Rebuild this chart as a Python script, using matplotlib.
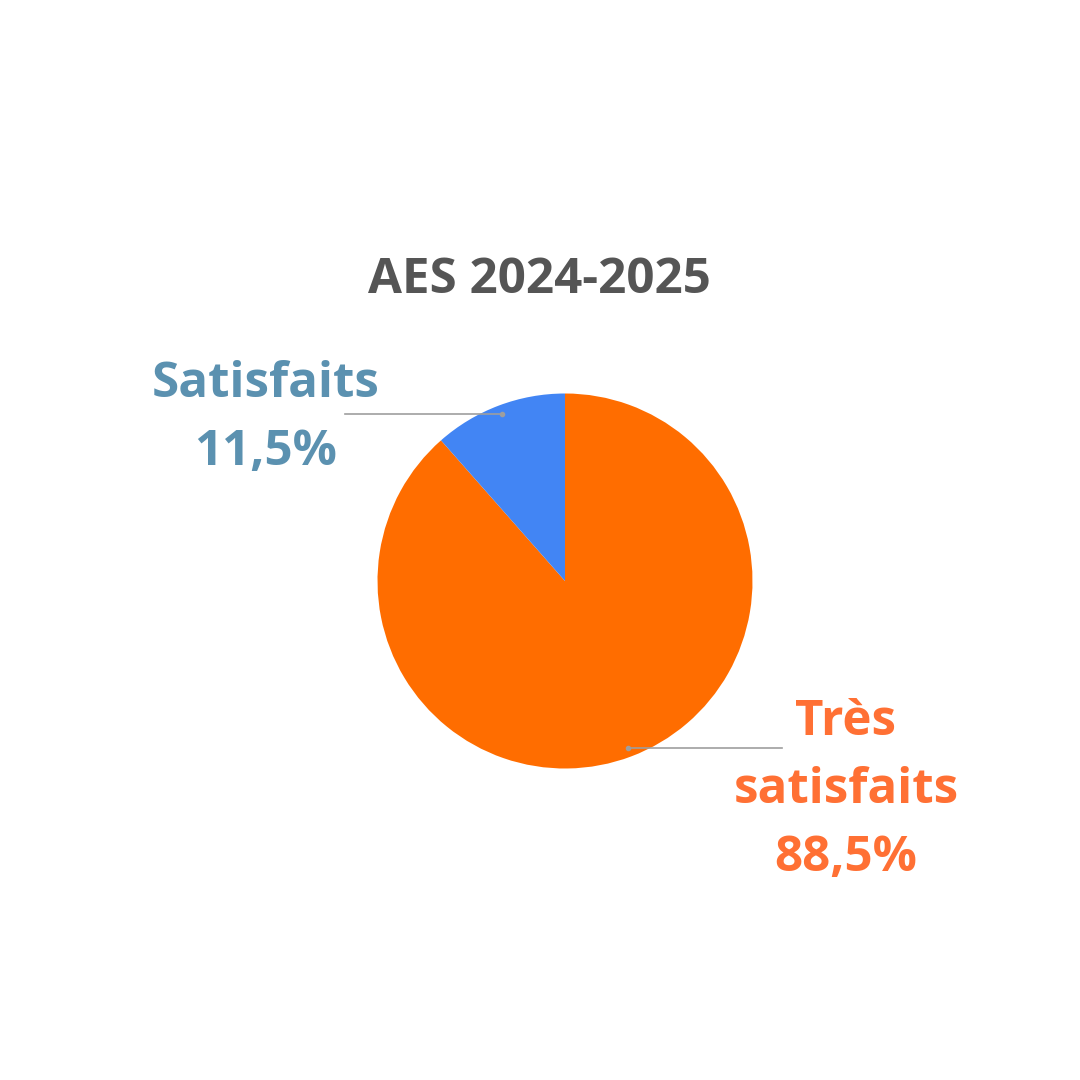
import numpy as np
import matplotlib
matplotlib.use("Agg")
import matplotlib.pyplot as plt

title = "AES 2024-2025"
categories = ["Très satisfaits", "Satisfaits"]
values = [88.5, 11.5]
label_lines = [["Très", "satisfaits", "88,5%"], ["Satisfaits", "11,5%"]]
colors = ["#FF6D00", "#4285F4"]
text_colors = ["#FF7034", "#5B91B0"]

W = H = 1080
fig = plt.figure(figsize=(10.8, 10.8), dpi=100)
ax = fig.add_axes([0, 0, 1, 1])
ax.set_xlim(0, W)
ax.set_ylim(0, H)
ax.set_aspect("equal")
ax.axis("off")

cx, cy, R = 565, H - 581, 187.5
wedges, _ = ax.pie(values, colors=colors, startangle=90, counterclock=False,
                   center=(cx, cy), radius=R, frame=True,
                   wedgeprops=dict(linewidth=0))
ax.set_xlim(0, W)
ax.set_ylim(0, H)
ax.axis("off")

fam = ["Open Sans", "DejaVu Sans"]
fs = 35.5
ax.text(539, H - 293, title, ha="center", va="baseline", fontsize=fs,
        fontweight="bold", color="#555555", family=fam)

# label settings: (line end x, text center x, first baseline y)
layout = {0: (782, 846, 735), 1: (345, 266, 397)}
step = 68
for i, w in enumerate(wedges):
    mid = np.deg2rad((w.theta1 + w.theta2) / 2)
    ax_x = cx + 0.95 * R * np.cos(mid)
    ax_y = cy + 0.95 * R * np.sin(mid)
    end_x, tx, ty = layout[i]
    ax.plot([ax_x, end_x], [ax_y, ax_y], color="#9E9E9E", lw=1.2, zorder=3)
    ax.plot([ax_x], [ax_y], "o", color="#9E9E9E", ms=3, zorder=4)
    for k, line in enumerate(label_lines[i]):
        ax.text(tx, H - (ty + k * step), line, ha="center", va="baseline",
                fontsize=fs, fontweight="bold", color=text_colors[i], family=fam)

fig.savefig("out.png", dpi=100, facecolor="white")
